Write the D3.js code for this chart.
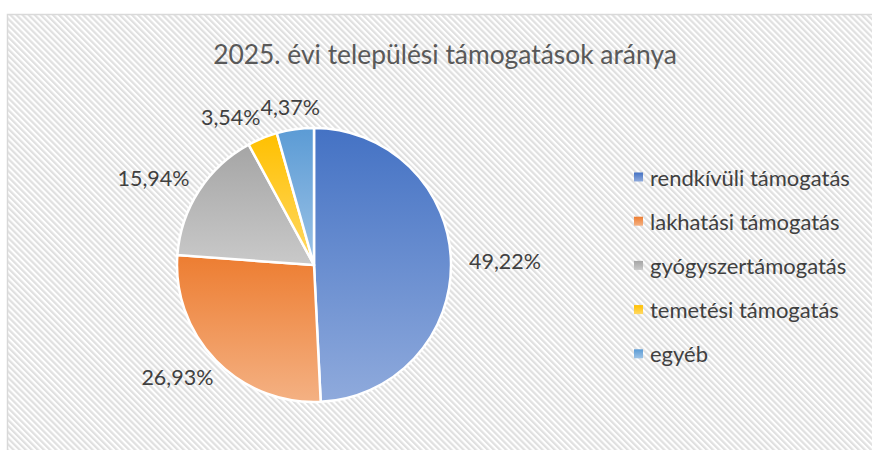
<!DOCTYPE html>
<html>
<head>
<meta charset="utf-8">
<script src="https://cdn.jsdelivr.net/npm/d3@7"></script>
<style>
  body { margin: 0; background: #fff; }
  text { font-family: Lato, "Liberation Sans", sans-serif; }
</style>
</head>
<body>
<script>
// chart values
const categories = ["rendkívüli támogatás", "lakhatási támogatás", "gyógyszertámogatás", "temetési támogatás", "egyéb"];
const shares = [49.22, 26.93, 15.94, 3.54, 4.37];
const labels = ["49,22%", "26,93%", "15,94%", "3,54%", "4,37%"];
const topColors = ["#4472C4", "#ED7D31", "#A5A5A5", "#FFC000", "#5B9BD5"];
const bottomColors = ["#8FAADC", "#F4B183", "#C9C9C9", "#FFD966", "#9DC3E6"];
const title = "2025. évi települési támogatások aránya";

const width = 872, height = 450;
const cx = 314, cy = 265, radius = 137;

const svg = d3.select("body").append("svg")
              .attr("width", width)
              .attr("height", height);

const defs = svg.append("defs");

// diagonal stripe background
const pat = defs.append("pattern")
                .attr("id", "stripes")
                .attr("patternUnits", "userSpaceOnUse")
                .attr("width", 4.3)
                .attr("height", 10)
                .attr("patternTransform", "rotate(-45)");
pat.append("rect").attr("width", 4.3).attr("height", 10).attr("fill", "#ffffff");
pat.append("rect").attr("width", 2.2).attr("height", 10).attr("fill", "#e0e0e0");

svg.append("rect")
   .attr("x", 7.5).attr("y", 14.5)
   .attr("width", width).attr("height", height)
   .attr("fill", "url(#stripes)")
   .attr("stroke", "#d9d9d9")
   .attr("stroke-width", 1.5);

// gradients per slice
categories.forEach((c, i) => {
  const g = defs.append("linearGradient")
                .attr("id", "grad" + i)
                .attr("x1", 0).attr("y1", 0).attr("x2", 0).attr("y2", 1);
  g.append("stop").attr("offset", "0%").attr("stop-color", topColors[i]);
  g.append("stop").attr("offset", "100%").attr("stop-color", bottomColors[i]);
});

svg.append("text")
   .attr("x", 445).attr("y", 64)
   .attr("text-anchor", "middle")
   .attr("font-size", 26.4)
   .attr("fill", "#595959")
   .text(title);

const pie = d3.pie().sort(null).value(d => d)(shares);
const arc = d3.arc().innerRadius(0).outerRadius(radius);

const gPie = svg.append("g").attr("transform", `translate(${cx},${cy})`);

gPie.selectAll("path")
    .data(pie)
    .join("path")
    .attr("d", arc)
    .attr("fill", (d, i) => `url(#grad${i})`)
    .attr("stroke", "#fff")
    .attr("stroke-width", 2.5)
    .attr("stroke-linejoin", "round");

// data labels outside end, pushed apart if they overlap
const gapX = radius + 18, gapY = radius + 12;
const lab = gPie.selectAll("text.lbl")
                .data(pie)
                .join("text")
                .attr("class", "lbl")
                .attr("font-size", 21.5)
                .attr("fill", "#404040")
                .attr("text-anchor", "middle")
                .attr("dominant-baseline", "central")
                .text((d, i) => labels[i]);

const boxes = [];
lab.each(function(d) {
  const a = (d.startAngle + d.endAngle) / 2;
  const w = this.getComputedTextLength(), h = 22;
  const s = Math.sin(a), c = Math.cos(a);
  boxes.push({ el: this, x: s * gapX + s * w / 2, y: -c * gapY - c * h / 2, w: w, h: h });
});
for (let i = boxes.length - 1; i > 0; i--) {
  const b = boxes[i], p = boxes[i - 1];
  const ox = (p.w + b.w) / 2 - Math.abs(b.x - p.x);
  const oy = (p.h + b.h) / 2 - Math.abs(b.y - p.y);
  if (ox > 0 && oy > 0) {
    p.x -= ox * 0.9;
    b.x += ox * 0.1;
  }
}
boxes.forEach(b => d3.select(b.el).attr("x", b.x).attr("y", b.y));

// legend
const legend = svg.append("g").attr("transform", "translate(634,177)");
const row = legend.selectAll("g")
                  .data(categories)
                  .join("g")
                  .attr("transform", (d, i) => `translate(0,${i * 44.2})`);
row.append("rect")
   .attr("x", 0).attr("y", -4.5)
   .attr("width", 9).attr("height", 9)
   .attr("fill", (d, i) => `url(#grad${i})`);
row.append("text")
   .attr("x", 16)
   .attr("dominant-baseline", "central")
   .attr("font-size", 22)
   .attr("fill", "#404040")
   .text(d => d);
</script>
</body>
</html>
